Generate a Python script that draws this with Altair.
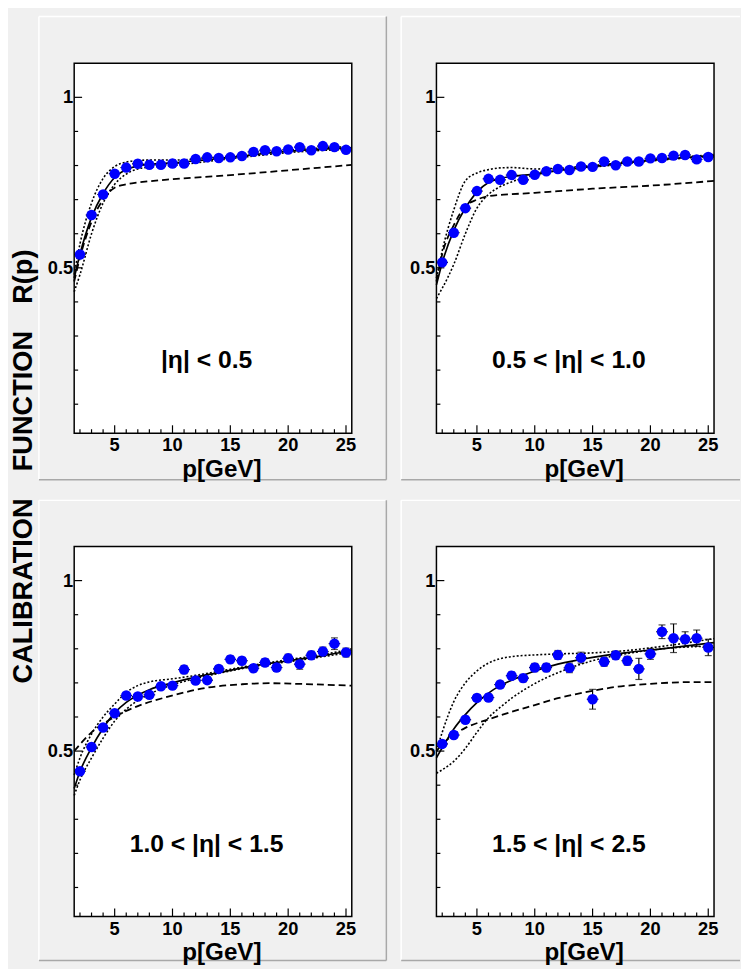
import altair as alt
import pandas as pd

FONT = "Liberation Sans"
W = 281
H = 374.5

# ---------------- data ----------------
P = list(range(2, 26))

r1 = [0.539, 0.655, 0.715, 0.776, 0.794, 0.805, 0.802, 0.802, 0.806, 0.806, 0.819, 0.824,
      0.822, 0.824, 0.828, 0.840, 0.845, 0.842, 0.847, 0.854, 0.845, 0.857, 0.854, 0.846]
e1 = [0.006, 0.006, 0.006, 0.006, 0.006, 0.006, 0.006, 0.006, 0.006, 0.006, 0.006, 0.006,
      0.006, 0.006, 0.006, 0.006, 0.007, 0.007, 0.007, 0.007, 0.008, 0.008, 0.008, 0.008]
r2 = [0.516, 0.603, 0.675, 0.725, 0.761, 0.758, 0.772, 0.758, 0.773, 0.783, 0.790, 0.787,
      0.797, 0.796, 0.812, 0.801, 0.812, 0.812, 0.821, 0.822, 0.829, 0.831, 0.818, 0.825]
e2 = [0.006, 0.006, 0.006, 0.006, 0.007, 0.007, 0.007, 0.007, 0.007, 0.007, 0.007, 0.007,
      0.007, 0.007, 0.008, 0.008, 0.008, 0.008, 0.008, 0.008, 0.009, 0.009, 0.009, 0.009]
r3 = [0.441, 0.512, 0.569, 0.611, 0.663, 0.660, 0.665, 0.690, 0.692, 0.739, 0.707, 0.708,
      0.741, 0.769, 0.765, 0.743, 0.760, 0.745, 0.772, 0.755, 0.781, 0.792, 0.815, 0.789]
e3 = [0.006, 0.006, 0.006, 0.007, 0.007, 0.007, 0.008, 0.008, 0.008, 0.012, 0.009, 0.009,
      0.010, 0.010, 0.010, 0.010, 0.011, 0.011, 0.012, 0.015, 0.012, 0.013, 0.017, 0.013]
r4 = [0.521, 0.547, 0.592, 0.656, 0.657, 0.695, 0.721, 0.714, 0.745, 0.745, 0.782, 0.744,
      0.774, 0.652, 0.762, 0.781, 0.765, 0.741, 0.785, 0.850, 0.831, 0.828, 0.831, 0.804]
e4 = [0.008, 0.009, 0.010, 0.010, 0.010, 0.010, 0.011, 0.011, 0.012, 0.012, 0.013, 0.014,
      0.016, 0.029, 0.013, 0.012, 0.013, 0.031, 0.016, 0.020, 0.042, 0.022, 0.024, 0.024]

# curves: solid fit, upper / lower dotted band, dashed reference
c1x = [1.5, 2, 3, 4, 5, 6, 7, 8, 10, 15, 20, 25.5]
solid1 = [0.47, 0.54, 0.648, 0.718, 0.765, 0.788, 0.799, 0.804, 0.808, 0.824, 0.842, 0.852]
upper1 = [0.48, 0.57, 0.69, 0.762, 0.797, 0.81, 0.815, 0.816, 0.816, 0.828, 0.845, 0.856]
lower1 = [0.43, 0.48, 0.60, 0.69, 0.745, 0.775, 0.79, 0.795, 0.80, 0.82, 0.838, 0.848]
dashed1 = [0.46, 0.53, 0.635, 0.70, 0.735, 0.745, 0.75, 0.754, 0.76, 0.772, 0.786, 0.802]

c2x = [1.5, 2, 3, 4, 5, 6, 7, 8, 10, 12, 15, 20, 25.5]
solid2 = [0.45, 0.515, 0.61, 0.675, 0.722, 0.75, 0.762, 0.768, 0.775, 0.785, 0.797, 0.815, 0.83]
upper2 = [0.47, 0.55, 0.67, 0.755, 0.778, 0.788, 0.793, 0.794, 0.79, 0.792, 0.80, 0.817, 0.832]
lower2 = [0.41, 0.44, 0.51, 0.60, 0.675, 0.715, 0.738, 0.752, 0.772, 0.785, 0.795, 0.813, 0.828]
dashed2 = [0.46, 0.54, 0.625, 0.68, 0.70, 0.71, 0.714, 0.716, 0.72, 0.725, 0.732, 0.741, 0.755]

c3x = [1.5, 2, 3, 4, 5, 6, 7, 8, 10, 12, 14, 17, 20, 23, 25.5]
solid3 = [0.39, 0.44, 0.51, 0.567, 0.612, 0.643, 0.664, 0.68, 0.70, 0.717, 0.73, 0.75, 0.765, 0.78, 0.795]
upper3 = [0.43, 0.48, 0.55, 0.60, 0.638, 0.672, 0.692, 0.703, 0.712, 0.722, 0.734, 0.752, 0.768, 0.783, 0.80]
lower3 = [0.37, 0.415, 0.48, 0.538, 0.588, 0.623, 0.648, 0.667, 0.694, 0.713, 0.728, 0.748, 0.762, 0.777, 0.79]
d3x = [1.5, 3, 5, 6, 7, 10, 13, 16, 18.5, 21, 25.5]
dashed3 = [0.50, 0.555, 0.60, 0.618, 0.632, 0.663, 0.686, 0.696, 0.699, 0.697, 0.692]

c4x = [1.5, 2, 3, 4, 5, 6, 7, 8, 10, 12, 15, 18, 21, 25.5]
solid4 = [0.48, 0.51, 0.565, 0.607, 0.642, 0.67, 0.692, 0.708, 0.735, 0.755, 0.775, 0.789, 0.80, 0.818]
upper4 = [0.50, 0.555, 0.645, 0.70, 0.735, 0.758, 0.771, 0.777, 0.782, 0.785, 0.788, 0.795, 0.807, 0.83]
lower4 = [0.435, 0.445, 0.47, 0.508, 0.555, 0.598, 0.628, 0.655, 0.698, 0.73, 0.765, 0.786, 0.80, 0.808]
d4x = [1.5, 2, 3, 4, 6, 8, 10, 12, 14, 17, 20, 23, 25.5]
dashed4 = [0.50, 0.52, 0.548, 0.568, 0.593, 0.615, 0.635, 0.655, 0.67, 0.688, 0.697, 0.702, 0.702]

labels = ["|η| < 0.5", "0.5 < |η| < 1.0", "1.0 < |η| < 1.5", "1.5 < |η| < 2.5"]
X_MAJOR = [5, 10, 15, 20, 25]
X_MAJOR_TXT = ["5", "10", "15", "20", "25"]
X_MINOR = [2, 3, 4, 6, 7, 8, 9, 11, 12, 13, 14, 16, 17, 18, 19, 21, 22, 23, 24]
Y_MAJOR = [0.5, 1.0]
Y_MAJOR_TXT = ["0.5", "1"]
Y_MINOR = [0.1, 0.2, 0.3, 0.4, 0.6, 0.7, 0.8, 0.9]
X_TITLE = "p[GeV]"
Y_TITLE = "CALIBRATION\u2003FUNCTION\u2003R(p)"

# ---------------- styling ----------------
XS = alt.Scale(domain=[1.5, 25.5], nice=False, zero=False)
YS = alt.Scale(domain=[0.015, 1.1], nice=False, zero=False)
GRAY = "#f0f0f0"
ONE = pd.DataFrame({"k": [0]})


def vrect(x1, x2, y1, y2, **kw):
    return alt.Chart(ONE).mark_rect(**kw).encode(
        x=alt.value(x1), x2=alt.value(x2), y=alt.value(y1), y2=alt.value(y2))


def vline(x1, x2, y1, y2, color, w=1.5):
    return alt.Chart(ONE).mark_rule(color=color, strokeWidth=w).encode(
        x=alt.value(x1), x2=alt.value(x2), y=alt.value(y1), y2=alt.value(y2))


def vtext(txt, x, y, size, **kw):
    return alt.Chart(ONE).mark_text(
        text=txt, font=FONT, fontSize=size, fontWeight="bold", color="black", **kw).encode(
        x=alt.value(x), y=alt.value(y))


def curve(xs, ys, dash=None, w=1.5):
    df = pd.DataFrame({"x": xs, "y": ys})
    kw = dict(color="black", strokeWidth=w, interpolate="monotone")
    if dash:
        kw["strokeDash"] = dash
    return alt.Chart(df).mark_line(**kw).encode(
        x=alt.X("x:Q", scale=XS, axis=None), y=alt.Y("y:Q", scale=YS, axis=None))


def panel(r, e, curves, label, frame, first=False):
    layers = []
    if first:
        layers.append(vrect(-67, 674, -49.3, 911.7, fill=GRAY))
    fl, ft, fr, fb, right_edge, bottom_edge = frame
    layers.append(vrect(fl, fr, ft, fb, fill=GRAY))
    layers.append(vline(fl, fr, ft, ft, "white"))
    layers.append(vline(fl, fl, ft, fb, "white"))
    if right_edge:
        layers.append(vline(fr, fr, ft, fb, "#a8a8a8"))
    if bottom_edge:
        layers.append(vline(fl, fr, fb, fb, "#a8a8a8"))
    layers.append(vrect(0, W, 0, H, fill="white"))

    for xs, ys, dash, w in curves:
        layers.append(curve(xs, ys, dash, w))

    # inward ticks
    tx = pd.DataFrame({"v": X_MAJOR, "t": X_MAJOR_TXT})
    txm = pd.DataFrame({"v": X_MINOR})
    ty = pd.DataFrame({"v": Y_MAJOR, "t": Y_MAJOR_TXT})
    tym = pd.DataFrame({"v": Y_MINOR})
    layers.append(alt.Chart(tx).mark_rule(color="black", strokeWidth=1.2).encode(
        x=alt.X("v:Q", scale=XS, axis=None), y=alt.value(H), y2=alt.value(H - 8)))
    layers.append(alt.Chart(txm).mark_rule(color="black", strokeWidth=1.2).encode(
        x=alt.X("v:Q", scale=XS, axis=None), y=alt.value(H), y2=alt.value(H - 4)))
    layers.append(alt.Chart(ty).mark_rule(color="black", strokeWidth=1.2).encode(
        y=alt.Y("v:Q", scale=YS, axis=None), x=alt.value(0), x2=alt.value(8)))
    layers.append(alt.Chart(tym).mark_rule(color="black", strokeWidth=1.2).encode(
        y=alt.Y("v:Q", scale=YS, axis=None), x=alt.value(0), x2=alt.value(4)))

    df = pd.DataFrame({"x": P, "r": r, "e": e})
    df["lo"] = df["r"] - df["e"]
    df["hi"] = df["r"] + df["e"]
    df["xl"] = df["x"] - 0.5
    df["xr"] = df["x"] + 0.5
    base = alt.Chart(df)
    layers.append(base.mark_rule(color="black", strokeWidth=1.2).encode(
        x=alt.X("xl:Q", scale=XS, axis=None), x2="xr:Q",
        y=alt.Y("r:Q", scale=YS, axis=None)))
    layers.append(base.mark_rule(color="black", strokeWidth=1.2).encode(
        x=alt.X("x:Q", scale=XS, axis=None),
        y=alt.Y("lo:Q", scale=YS, axis=None), y2="hi:Q"))
    for fld in ["lo", "hi"]:
        layers.append(base.mark_tick(orient="horizontal", size=7, thickness=1.2, color="black").encode(
            x=alt.X("x:Q", scale=XS, axis=None),
            y=alt.Y(fld + ":Q", scale=YS, axis=None)))
    layers.append(base.mark_circle(size=112, color="#0000ff", opacity=1).encode(
        x=alt.X("x:Q", scale=XS, axis=None),
        y=alt.Y("r:Q", scale=YS, axis=None)))

    layers.append(vrect(0, W, 0, H, fillOpacity=0, stroke="black", strokeWidth=1.5))

    # tick labels and axis title
    layers.append(alt.Chart(tx).mark_text(
        font=FONT, fontSize=18.5, fontWeight="bold", color="black",
        align="center", baseline="middle").encode(
        x=alt.X("v:Q", scale=XS, axis=None), y=alt.value(H + 12.5), text="t:N"))
    layers.append(alt.Chart(ty).mark_text(
        font=FONT, fontSize=18.5, fontWeight="bold", color="black",
        align="right", baseline="middle").encode(
        y=alt.Y("v:Q", scale=YS, axis=None), x=alt.value(-1), text="t:N"))
    layers.append(vtext(X_TITLE, 149.5, H + 44, 24.5, align="center", baseline="alphabetic"))

    layers.append(vtext(label, 134, 301, 25, align="center", baseline="middle"))

    if first:
        layers.append(vtext(Y_TITLE, -51, 408.2, 27.5, angle=270,
                            align="center", baseline="middle"))

    return alt.layer(*layers).properties(width=W, height=H)


sty_solid, sty_dot, sty_dash = None, [2, 2], [7, 4]

p1 = panel(r1, e1, [(c1x, dashed1, sty_dash, 1.8), (c1x, upper1, sty_dot, 1.6),
                    (c1x, lower1, sty_dot, 1.6), (c1x, solid1, sty_solid, 1.7)],
           labels[0], (-35.7, -47.3, 316, 421.7, True, True), first=True)
p2 = panel(r2, e2, [(c2x, dashed2, sty_dash, 1.8), (c2x, upper2, sty_dot, 1.6),
                    (c2x, lower2, sty_dot, 1.6), (c2x, solid2, sty_solid, 1.7)],
           labels[1], (-35.7, -47.3, 307.3, 421.7, False, True))
p3 = panel(r3, e3, [(d3x, dashed3, sty_dash, 1.8), (c3x, upper3, sty_dot, 1.6),
                    (c3x, lower3, sty_dot, 1.6), (c3x, solid3, sty_solid, 1.7)],
           labels[2], (-35.7, -46.7, 316, 419, True, True))
p4 = panel(r4, e4, [(d4x, dashed4, sty_dash, 1.8), (c4x, upper4, sty_dot, 1.6),
                    (c4x, lower4, sty_dot, 1.6), (c4x, solid4, sty_solid, 1.7)],
           labels[3], (-35.7, -46.7, 307.3, 419, False, True))

chart = alt.concat(p1, p2, p3, p4, columns=2,
                   spacing={"row": 114.2, "column": 85.7},
                   bounds="flush").properties(padding=0).configure(
    background=GRAY).configure_view(strokeWidth=0)

chart.save("out.html", embed_options={"renderer": "svg", "actions": False})
